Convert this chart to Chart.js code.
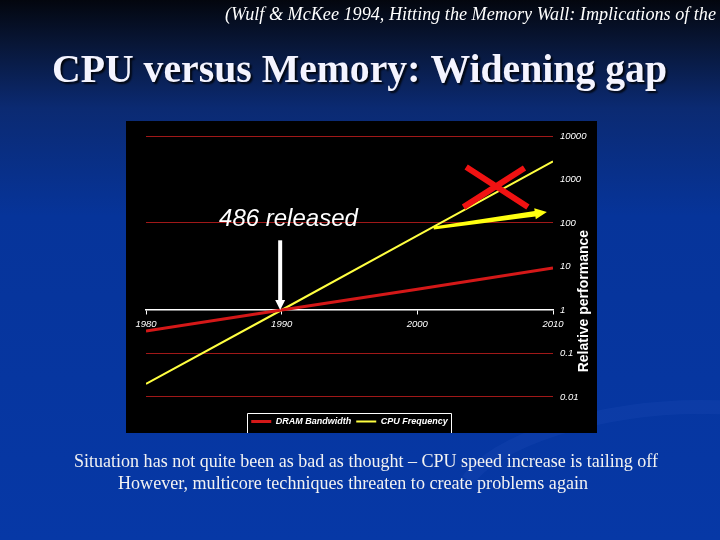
<!DOCTYPE html>
<html>
<head>
<meta charset="utf-8">
<script src="https://cdn.jsdelivr.net/npm/chart.js@4.4.1/dist/chart.umd.min.js"></script>
<style>
    html, body { margin: 0; padding: 0; background: #0435a0; }
    #wrap { width: 720px; height: 540px; }
</style>
</head>
<body>
<div id="wrap"><canvas id="slide" width="720" height="540"></canvas></div>
<script>
    const years = [1980, 1990, 2000, 2010];
    const dramBandwidth = [0.33, 1, 3.0, 9.2];
    const cpuFrequency = [0.02, 1, 51, 2600];
    const xTicks = [1980, 1990, 2000, 2010];
    const yTicks = [10000, 1000, 100, 10, 1, 0.1, 0.01];
    const redGridTicks = [10000, 100, 0.1, 0.01];
    const seriesNames = ['DRAM Bandwidth', 'CPU Frequency'];

    const slideTitle = 'CPU versus Memory: Widening gap';
    const citation = '(Wulf & McKee 1994, Hitting the Memory Wall: Implications of the';
    const footerLines = [
        'Situation has not quite been as bad as thought \u2013 CPU speed increase is tailing off',
        'However, multicore techniques threaten to create problems again'
    ];
    const axisTitle = 'Relative performance';
    const noteText = '486 released';

    Chart.defaults.font.family = '"Liberation Sans", Arial, sans-serif';

    // draw text squeezed/stretched to a given width, like the slide's condensed type
    const fitText = (ctx, text, x, y, width) => {
        const w = ctx.measureText(text).width;
        ctx.save();
        ctx.translate(x, y);
        ctx.scale(width / w, 1);
        ctx.fillText(text, 0, 0);
        ctx.restore();
    };

    const slidePlugin = {
        id: 'slide',
        beforeDraw(chart) {
            const { ctx, chartArea: area, width, height } = chart;
            ctx.save();
            const bg = ctx.createLinearGradient(0, 0, 0, height);
            bg.addColorStop(0, '#03060e');
            bg.addColorStop(0.08, '#081636');
            bg.addColorStop(0.2, '#0b2a72');
            bg.addColorStop(0.4, '#06349a');
            bg.addColorStop(1, '#0638a6');
            ctx.fillStyle = bg;
            ctx.fillRect(0, 0, width, height);

            // faint swoosh bottom right
            ctx.strokeStyle = 'rgba(120, 160, 255, 0.06)';
            ctx.lineWidth = 14;
            ctx.beginPath();
            ctx.ellipse(650, 480, 190, 70, -0.12, Math.PI * 1.1, Math.PI * 1.95);
            ctx.stroke();

            ctx.fillStyle = '#ffffff';
            ctx.textBaseline = 'alphabetic';
            ctx.font = 'italic 18px "Liberation Serif", serif';
            fitText(ctx, citation, 225, 20, 491);

            ctx.shadowColor = 'rgba(0, 0, 0, 0.85)';
            ctx.shadowOffsetX = 2;
            ctx.shadowOffsetY = 2;
            ctx.shadowBlur = 2;
            ctx.fillStyle = '#f4f4ff';
            ctx.font = 'bold 40px "Liberation Serif", serif';
            fitText(ctx, slideTitle, 52, 82, 615);
            ctx.shadowColor = 'transparent';

            ctx.fillStyle = '#f2f2f2';
            ctx.font = '18px "Liberation Serif", serif';
            fitText(ctx, footerLines[0], 74, 467, 584);
            fitText(ctx, footerLines[1], 118, 489, 470);

            ctx.fillStyle = '#000000';
            const left = area.left - 20;
            const top = area.top - 15;
            ctx.fillRect(left, top, area.right + 44 - left, area.bottom + 21 - top);
            ctx.restore();
        },
        afterDraw(chart) {
            const { ctx, chartArea: area, legend } = chart;
            const y = chart.scales.y;
            ctx.save();
            // border round the legend
            const boxes = legend.legendHitBoxes;
            if (boxes.length) {
                const first = boxes[0];
                const last = boxes[boxes.length - 1];
                const l = Math.round(first.left - 4) + 0.5;
                const r = Math.round(last.left + last.width + 3) + 0.5;
                const t = Math.round(legend.top + 1) + 0.5;
                const b = area.bottom + 21;
                ctx.strokeStyle = '#ffffff';
                ctx.lineWidth = 1;
                ctx.beginPath();
                ctx.moveTo(l, b);
                ctx.lineTo(l, t);
                ctx.lineTo(r, t);
                ctx.lineTo(r, b);
                ctx.stroke();
            }
            // rotated axis title
            ctx.translate(area.right + 31, y.getPixelForValue(1.6));
            ctx.rotate(-Math.PI / 2);
            ctx.fillStyle = '#ffffff';
            ctx.font = 'bold 14px "Liberation Sans", Arial, sans-serif';
            ctx.textAlign = 'center';
            ctx.textBaseline = 'middle';
            ctx.fillText(axisTitle, 0, 0);
            ctx.restore();
        }
    };

    const annotationPlugin = {
        id: 'notes',
        afterDatasetsDraw(chart) {
            const { ctx } = chart;
            const x = chart.scales.x;
            const y = chart.scales.y;
            ctx.save();

            // red cross over the CPU trend
            ctx.strokeStyle = '#f01212';
            ctx.lineWidth = 6;
            ctx.lineCap = 'butt';
            ctx.beginPath();
            ctx.moveTo(x.getPixelForValue(2003.6), y.getPixelForValue(1940));
            ctx.lineTo(x.getPixelForValue(2008.15), y.getPixelForValue(232));
            ctx.moveTo(x.getPixelForValue(2007.9), y.getPixelForValue(1830));
            ctx.lineTo(x.getPixelForValue(2003.4), y.getPixelForValue(232));
            ctx.stroke();

            // yellow tapered arrow
            const ax1 = x.getPixelForValue(2001.2);
            const ay1 = y.getPixelForValue(77);
            const ax2 = x.getPixelForValue(2009.55);
            const ay2 = y.getPixelForValue(178);
            const len = Math.hypot(ax2 - ax1, ay2 - ay1);
            ctx.save();
            ctx.translate(ax1, ay1);
            ctx.rotate(Math.atan2(ay2 - ay1, ax2 - ax1));
            ctx.fillStyle = '#ffff10';
            ctx.beginPath();
            ctx.moveTo(0, -1.5);
            ctx.lineTo(len - 12, -2.8);
            ctx.lineTo(len - 12, -5.5);
            ctx.lineTo(len, 0);
            ctx.lineTo(len - 12, 5.5);
            ctx.lineTo(len - 12, 2.8);
            ctx.lineTo(0, 1.5);
            ctx.closePath();
            ctx.fill();
            ctx.restore();

            // white arrow down to 1990
            const wx = x.getPixelForValue(1990) - 1.5;
            const wTop = y.getPixelForValue(40);
            const wTip = y.getPixelForValue(1);
            ctx.fillStyle = '#ffffff';
            ctx.fillRect(wx - 2, wTop, 4, wTip - wTop - 9);
            ctx.beginPath();
            ctx.moveTo(wx - 5, wTip - 10);
            ctx.lineTo(wx + 5, wTip - 10);
            ctx.lineTo(wx, wTip);
            ctx.closePath();
            ctx.fill();

            ctx.font = 'italic 24px "Liberation Sans", Arial, sans-serif';
            ctx.textAlign = 'center';
            ctx.textBaseline = 'alphabetic';
            ctx.fillText(noteText, x.getPixelForValue(1990.5), y.getPixelForValue(87));
            ctx.restore();
        }
    };

    const toPoints = (values) => years.map((year, i) => ({ x: year, y: values[i] }));

    new Chart(document.getElementById('slide'), {
        type: 'line',
        data: {
            datasets: [
                {
                    label: seriesNames[0],
                    data: toPoints(dramBandwidth),
                    borderColor: '#d41818',
                    backgroundColor: '#d41818',
                    borderWidth: 3,
                    pointRadius: 0
                },
                {
                    label: seriesNames[1],
                    data: toPoints(cpuFrequency),
                    borderColor: '#ffff40',
                    backgroundColor: '#ffff40',
                    borderWidth: 2,
                    pointRadius: 0
                }
            ]
        },
        options: {
            responsive: false,
            animation: false,
            devicePixelRatio: 1,
            layout: { padding: { left: 146, top: 136, right: 123, bottom: 104 } },
            plugins: {
                legend: {
                    position: 'bottom',
                    fullSize: false,
                    labels: {
                        color: '#ffffff',
                        font: { size: 9, style: 'italic', weight: 'bold' },
                        usePointStyle: true,
                        pointStyle: 'line',
                        pointStyleWidth: 20,
                        padding: 5
                    }
                },
                tooltip: { enabled: false }
            },
            scales: {
                x: {
                    type: 'linear',
                    position: { y: 1 },
                    min: 1980,
                    max: 2010,
                    afterBuildTicks: (scale) => {
                        scale.ticks = xTicks.map((v) => ({ value: v }));
                    },
                    ticks: {
                        color: '#ffffff',
                        font: { size: 9.5, style: 'italic' },
                        padding: 5,
                        autoSkip: false,
                        maxRotation: 0,
                        callback: (value) => String(value)
                    },
                    grid: { drawOnChartArea: false, color: '#ffffff', tickLength: 4 },
                    border: { color: '#ffffff', width: 1.5 }
                },
                y: {
                    type: 'logarithmic',
                    position: 'right',
                    min: 0.00452,
                    max: 10000,
                    afterFit: (scale) => {
                        scale.width = 44;
                    },
                    afterBuildTicks: (scale) => {
                        scale.ticks = yTicks.map((v) => ({ value: v }));
                    },
                    ticks: {
                        color: '#ffffff',
                        font: { size: 9.5, style: 'italic' },
                        padding: 7,
                        autoSkip: false,
                        callback: (value) => String(value)
                    },
                    grid: {
                        drawTicks: false,
                        color: (c) => (c.tick && redGridTicks.includes(c.tick.value) ? '#a01818' : 'rgba(0,0,0,0)')
                    },
                    border: { display: false }
                }
            }
        },
        plugins: [slidePlugin, annotationPlugin]
    });
</script>
</body>
</html>
